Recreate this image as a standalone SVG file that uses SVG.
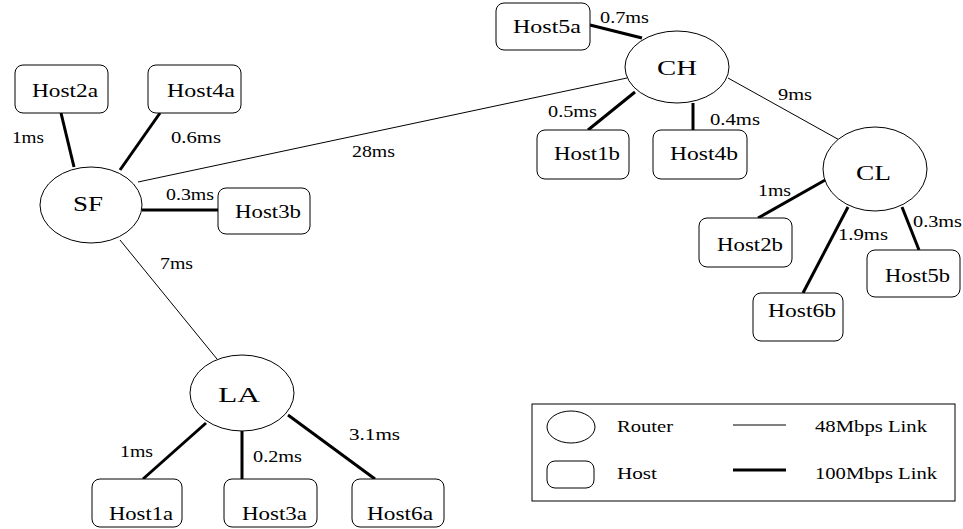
<svg xmlns="http://www.w3.org/2000/svg" width="963" height="529" viewBox="0 0 963 529">
<style>
  .host rect { fill: #fff; stroke: #000; stroke-width: 1; }
  .router ellipse { fill: #fff; stroke: #000; stroke-width: 1; }
  text { font-family: "Liberation Serif", "Times New Roman", serif; fill: #000; }
  .hl { font-size: 19px; }
  .rl { font-size: 22px; }
  .ll { font-size: 16px; }
  .gl { font-size: 16px; }
  .thin { stroke: #000; stroke-width: 1; fill: none; }
  .thick { stroke: #000; stroke-width: 3; fill: none; }
</style>
<rect width="963" height="529" fill="#fff"/>
<g id="connectors">
  <line class="thin" x1="138" y1="182" x2="627" y2="78"/>
  <line class="thin" x1="728" y1="78" x2="843" y2="142"/>
  <line class="thin" x1="120" y1="240" x2="217" y2="359"/>
  <line class="thick" x1="61" y1="113" x2="74" y2="167"/>
  <line class="thick" x1="160" y1="113" x2="120" y2="170"/>
  <line class="thick" x1="142" y1="210" x2="218" y2="210"/>
  <line class="thick" x1="590" y1="25" x2="642" y2="38"/>
  <line class="thick" x1="635" y1="92" x2="588" y2="130"/>
  <line class="thick" x1="693" y1="103" x2="693" y2="130"/>
  <line class="thick" x1="827" y1="179" x2="758" y2="218"/>
  <line class="thick" x1="848" y1="207" x2="803" y2="293"/>
  <line class="thick" x1="902" y1="207" x2="919" y2="250"/>
  <line class="thick" x1="206" y1="423" x2="143" y2="479"/>
  <line class="thick" x1="242" y1="431" x2="242" y2="479"/>
  <line class="thick" x1="288" y1="415" x2="375" y2="479"/>
  <text class="ll" x="12" y="143" textLength="32" lengthAdjust="spacingAndGlyphs">1ms</text>
  <text class="ll" x="171" y="143" textLength="50" lengthAdjust="spacingAndGlyphs">0.6ms</text>
  <text class="ll" x="166" y="200" textLength="48" lengthAdjust="spacingAndGlyphs">0.3ms</text>
  <text class="ll" x="352" y="157" textLength="43" lengthAdjust="spacingAndGlyphs">28ms</text>
  <text class="ll" x="160" y="269" textLength="33" lengthAdjust="spacingAndGlyphs">7ms</text>
  <text class="ll" x="600" y="23" textLength="49" lengthAdjust="spacingAndGlyphs">0.7ms</text>
  <text class="ll" x="548" y="117" textLength="49" lengthAdjust="spacingAndGlyphs">0.5ms</text>
  <text class="ll" x="710" y="125" textLength="50" lengthAdjust="spacingAndGlyphs">0.4ms</text>
  <text class="ll" x="778" y="100" textLength="34" lengthAdjust="spacingAndGlyphs">9ms</text>
  <text class="ll" x="758" y="196" textLength="33" lengthAdjust="spacingAndGlyphs">1ms</text>
  <text class="ll" x="838" y="240" textLength="50" lengthAdjust="spacingAndGlyphs">1.9ms</text>
  <text class="ll" x="913" y="227" textLength="49" lengthAdjust="spacingAndGlyphs">0.3ms</text>
  <text class="ll" x="120" y="457" textLength="33" lengthAdjust="spacingAndGlyphs">1ms</text>
  <text class="ll" x="253" y="462" textLength="49" lengthAdjust="spacingAndGlyphs">0.2ms</text>
  <text class="ll" x="349" y="440" textLength="51" lengthAdjust="spacingAndGlyphs">3.1ms</text>
</g>
<g id="SF" class="router"><ellipse cx="91" cy="205" rx="51" ry="38"/><text class="rl" x="73" y="211" textLength="30" lengthAdjust="spacingAndGlyphs">SF</text></g>
<g id="CH" class="router"><ellipse cx="677" cy="67" rx="52" ry="36"/><text class="rl" x="657" y="75" textLength="40" lengthAdjust="spacingAndGlyphs">CH</text></g>
<g id="CL" class="router"><ellipse cx="875" cy="169" rx="52" ry="42"/><text class="rl" x="856" y="180" textLength="35" lengthAdjust="spacingAndGlyphs">CL</text></g>
<g id="LA" class="router"><ellipse cx="242" cy="393" rx="52" ry="38"/><text class="rl" x="218" y="402" textLength="42" lengthAdjust="spacingAndGlyphs">LA</text></g>
<g id="Host2a" class="host"><rect x="15" y="65" width="93" height="48" rx="8"/><text class="hl" x="32" y="97" textLength="66" lengthAdjust="spacingAndGlyphs">Host2a</text></g>
<g id="Host4a" class="host"><rect x="148" y="65" width="93" height="48" rx="8"/><text class="hl" x="167" y="97" textLength="68" lengthAdjust="spacingAndGlyphs">Host4a</text></g>
<g id="Host3b" class="host"><rect x="218" y="188" width="92" height="46" rx="8"/><text class="hl" x="235" y="218" textLength="66" lengthAdjust="spacingAndGlyphs">Host3b</text></g>
<g id="Host5a" class="host"><rect x="496" y="3" width="94" height="47" rx="8"/><text class="hl" x="513" y="33" textLength="68" lengthAdjust="spacingAndGlyphs">Host5a</text></g>
<g id="Host1b" class="host"><rect x="537" y="130" width="92" height="49" rx="8"/><text class="hl" x="554" y="160" textLength="66" lengthAdjust="spacingAndGlyphs">Host1b</text></g>
<g id="Host4b" class="host"><rect x="653" y="130" width="94" height="49" rx="8"/><text class="hl" x="670" y="160" textLength="68" lengthAdjust="spacingAndGlyphs">Host4b</text></g>
<g id="Host2b" class="host"><rect x="699" y="218" width="93" height="49" rx="8"/><text class="hl" x="717" y="251" textLength="66" lengthAdjust="spacingAndGlyphs">Host2b</text></g>
<g id="Host6b" class="host"><rect x="753" y="293" width="90" height="48" rx="8"/><text class="hl" x="768" y="317" textLength="68" lengthAdjust="spacingAndGlyphs">Host6b</text></g>
<g id="Host5b" class="host"><rect x="867" y="250" width="93" height="47" rx="8"/><text class="hl" x="885" y="282" textLength="65" lengthAdjust="spacingAndGlyphs">Host5b</text></g>
<g id="Host1a" class="host"><rect x="92" y="479" width="90" height="48" rx="8"/><text class="hl" x="109" y="520" textLength="64" lengthAdjust="spacingAndGlyphs">Host1a</text></g>
<g id="Host3a" class="host"><rect x="224" y="479" width="93" height="48" rx="8"/><text class="hl" x="242" y="520" textLength="65" lengthAdjust="spacingAndGlyphs">Host3a</text></g>
<g id="Host6a" class="host"><rect x="352" y="479" width="92" height="48" rx="8"/><text class="hl" x="367" y="520" textLength="66" lengthAdjust="spacingAndGlyphs">Host6a</text></g>
<g id="legend">
  <rect x="532" y="404" width="423" height="97" fill="#fff" stroke="#000" stroke-width="1"/>
  <ellipse cx="571" cy="427" rx="24" ry="16" fill="#fff" stroke="#000" stroke-width="1"/>
  <rect x="547" y="461" width="47" height="27" rx="8" fill="#fff" stroke="#000" stroke-width="1"/>
  <line class="thin" x1="733" y1="425" x2="786" y2="425"/>
  <line class="thick" x1="733" y1="470" x2="786" y2="470"/>
  <text class="gl" x="617" y="432" textLength="56" lengthAdjust="spacingAndGlyphs">Router</text>
  <text class="gl" x="617" y="479" textLength="40" lengthAdjust="spacingAndGlyphs">Host</text>
  <text class="gl" x="815" y="432" textLength="112" lengthAdjust="spacingAndGlyphs">48Mbps Link</text>
  <text class="gl" x="815" y="479" textLength="122" lengthAdjust="spacingAndGlyphs">100Mbps Link</text>
</g>
</svg>
